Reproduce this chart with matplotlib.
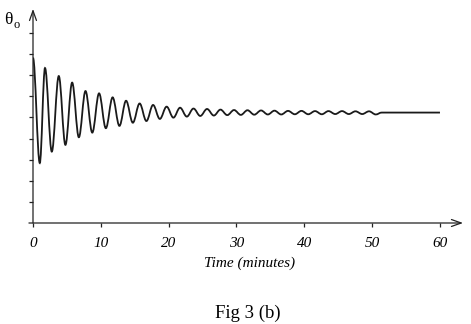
import matplotlib
matplotlib.use("Agg")
import matplotlib.pyplot as plt
from matplotlib.path import Path
from matplotlib.patches import PathPatch

plt.rcParams['font.family'] = ['Liberation Serif', 'DejaVu Serif']

# turning points of the trace (time in minutes, theta_o in tick units)
ext_t = [0.00, 1.00, 1.77, 2.77, 3.80, 4.78, 5.77, 6.76, 7.74, 8.74,
         9.74, 10.74, 11.74, 12.74, 13.72, 14.72, 15.72, 16.72, 17.70, 18.70,
         19.70, 20.70, 21.68, 22.68, 23.66, 24.66, 25.66, 26.66, 27.64, 28.64,
         29.64, 30.64, 31.62, 32.62, 33.62, 34.62, 35.60, 36.60, 37.60, 38.60,
         39.58, 40.58, 41.58, 42.58, 43.56, 44.56, 45.56, 46.56, 47.54, 48.54,
         49.54, 50.54, 51.40]
ext_v = [7.82, 2.84, 7.34, 3.38, 6.96, 3.70, 6.65, 4.06, 6.25, 4.28,
         6.14, 4.49, 5.95, 4.60, 5.79, 4.75, 5.66, 4.83, 5.59, 4.93,
         5.51, 4.99, 5.46, 5.04, 5.42, 5.07, 5.40, 5.09, 5.37, 5.11,
         5.35, 5.12, 5.34, 5.13, 5.33, 5.14, 5.32, 5.14, 5.31, 5.15,
         5.31, 5.15, 5.30, 5.15, 5.30, 5.16, 5.30, 5.16, 5.29, 5.16,
         5.29, 5.14, 5.23]
end_t = 60.0          # steady line after the oscillation dies out
xticks = [0, 10, 20, 30, 40, 50, 60]
yticks = [1, 2, 3, 4, 5, 6, 7, 8, 9]

fig = plt.figure(figsize=(4.71, 3.24), dpi=100)
ax = fig.add_axes([33 / 471, 101 / 324, 434.1 / 471, 221.7 / 324])
ax.set_xlim(0, 64)
ax.set_ylim(0, 10.5)

# smooth curve through the turning points (cubic segments, flat at each extreme)
k = 0.3634
verts = [(ext_t[0], ext_v[0])]
codes = [Path.MOVETO]
for i in range(len(ext_t) - 1):
    t0, v0, t1, v1 = ext_t[i], ext_v[i], ext_t[i + 1], ext_v[i + 1]
    dt = t1 - t0
    verts += [(t0 + k * dt, v0), (t1 - k * dt, v1), (t1, v1)]
    codes += [Path.CURVE4] * 3
verts.append((end_t, ext_v[-1]))
codes.append(Path.LINETO)
ax.add_patch(PathPatch(Path(verts, codes), fill=False, lw=1.3, color='#1a1a1a'))

for s in ax.spines.values():
    s.set_visible(False)

# axes with arrow heads
arr = dict(arrowstyle='->,head_length=0.7,head_width=0.25', lw=0.9, color='#222222',
           shrinkA=0, shrinkB=0)
ax.annotate('', xy=(63.4, 0), xytext=(-0.6, 0), arrowprops=arr, annotation_clip=False)
ax.annotate('', xy=(0, 10.14), xytext=(0, 0), arrowprops=arr, annotation_clip=False)

ax.set_xticks(xticks)
ax.set_xticklabels([str(x) for x in xticks], fontstyle='italic', fontsize=11)
ax.set_yticks(yticks)
ax.set_yticklabels([])
ax.tick_params(axis='both', direction='out', length=3, width=0.9, color='#222222', pad=7)
ax.set_xlabel('Time (minutes)', fontstyle='italic', fontsize=11, labelpad=5)

# theta_o label, upright as in the figure
fig.text(4 / 471, 1 - 20 / 324, 'θ', fontsize=12.5, va='center', ha='left')
fig.text(13 / 471, 1 - 25 / 324, 'o', fontsize=9, va='center', ha='left')
fig.text(248 / 471, 1 - 313 / 324, 'Fig 3 (b)', fontsize=13.5, ha='center', va='center')

fig.savefig('out.png', dpi=100)
